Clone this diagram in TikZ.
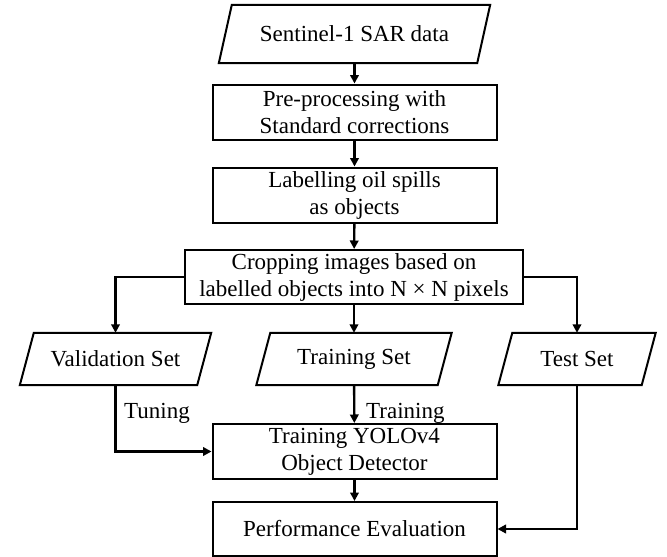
\documentclass[tikz,border=0pt]{standalone}
\usepackage{fontspec}
\setmainfont{Liberation Serif}
\usetikzlibrary{arrows.meta}

% frame a borderless node as a parallelogram leaning to the right
\newcommand{\slantframe}[2]{%
  \draw[boxline] ([xshift=#2]#1.north west) -- ([xshift=#2]#1.north east)
    -- ([xshift=-#2]#1.south east) -- ([xshift=-#2]#1.south west) -- cycle;}

\begin{document}
\begin{tikzpicture}[x=1pt, y=-1pt,
  font=\fontsize{23}{27}\selectfont,
  boxline/.style={line width=2pt, line join=miter},
  procbox/.style={draw, boxline, rectangle, inner sep=0pt, align=center,
                  minimum width=284pt, minimum height=55pt},
  databox/.style={rectangle, inner sep=0pt, align=center, minimum height=54pt},
  flow/.style={line width=2.4pt, -{Triangle[length=8.5pt,width=8.5pt]}},
  tag/.style={anchor=base west, inner sep=0pt}]

  \useasboundingbox (0,0) rectangle (667,557);

  % inputs and processing chain
  \node[databox, minimum width=258pt, minimum height=58pt] (sar) at (354.5,34) {Sentinel-1 SAR data};
  \node[procbox] (pre) at (354.5,112) {Pre-processing with\\Standard corrections};
  \node[procbox] (lab) at (354.5,195) {Labelling oil spills\\as objects};
  \node[procbox, minimum width=338pt, minimum height=54pt] (crop) at (354,277)
       {Cropping images based on\\labelled objects into N × N pixels};

  % data splits
  \node[databox, minimum width=177pt, minimum height=52pt] (val) at (115.5,359) {Validation Set};
  \node[databox, minimum width=181pt, minimum height=52pt] (train) at (354,359) {Training Set};
  \node[databox, minimum width=143pt, minimum height=52pt] (test) at (577,359) {Test Set};

  % model and evaluation
  \node[procbox] (yolo) at (354.5,451.5) {Training YOLOv4\\Object Detector};
  \node[procbox, minimum height=54pt] (perf) at (354.5,529) {Performance Evaluation};

  \slantframe{sar}{6.5pt}
  \slantframe{val}{7pt}
  \slantframe{train}{7pt}
  \slantframe{test}{7pt}

  % connectors
  \draw[flow] (sar) -- (pre);
  \draw[flow] (pre) -- (lab);
  \draw[flow] (lab) -- (crop);
  \draw[flow] (crop.west) -| (val.north);
  \draw[flow] (crop) -- (train);
  \draw[flow] (crop.east) -| (test.north);
  \draw[flow] (val.south) |- (yolo.west);
  \draw[flow] (train) -- (yolo);
  \draw[flow] (test.south) |- (perf.east);
  \draw[flow] (yolo) -- (perf);

  % edge labels
  \node[tag] (tuning) at (124,418) {Tuning};
  \node[tag] (trainlab) at (366,418) {Training};
\end{tikzpicture}
\end{document}
